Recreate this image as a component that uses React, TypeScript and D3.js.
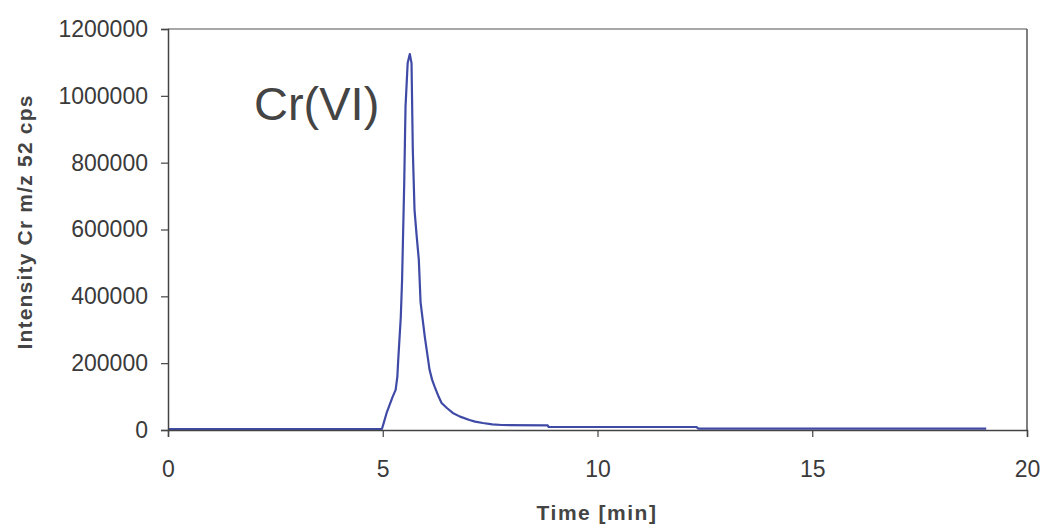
import React, { useRef, useEffect } from "react";
import * as d3 from "d3";

// retention time (min) and Cr m/z 52 intensity (cps)
const times = [
  0, 4.98, 5.02, 5.09, 5.16, 5.23, 5.3, 5.34, 5.36, 5.42, 5.45, 5.5, 5.53, 5.58,
  5.63, 5.67, 5.7, 5.74, 5.79, 5.84, 5.88, 5.93, 5.98, 6.04, 6.09, 6.15, 6.21,
  6.3, 6.37, 6.5, 6.63, 6.8, 7.02, 7.15, 7.33, 7.55, 7.77, 8.84, 8.86, 12.3,
  12.35, 19.05,
];
const intensity = [
  3000, 3000, 20000, 51000, 75000, 99000, 120000, 160000, 209000, 338000,
  449000, 739000, 967000, 1098000, 1125000, 1098000, 838000, 658000, 580000,
  509000, 383000, 330000, 278000, 225000, 180000, 150000, 129000, 100000, 81000,
  65000, 51000, 40000, 30000, 25000, 21000, 17000, 15000, 14000, 9000, 9000,
  4000, 4000,
];
const xTicks = [0, 5, 10, 15, 20];
const yTicks = [0, 200000, 400000, 600000, 800000, 1000000, 1200000];

const W = 1045;
const H = 529;
const FONT = "'Liberation Sans', Arial, sans-serif";

const App = () => {
  const ref = useRef<SVGSVGElement>(null);

  useEffect(() => {
    const svg = d3.select(ref.current);
    svg.selectAll("*").remove();

    const m = { top: 29, right: 18, bottom: 99, left: 168 };
    const x = d3.scaleLinear().domain([0, 20]).range([m.left, W - m.right]);
    const y = d3.scaleLinear().domain([0, 1200000]).range([H - m.bottom, m.top]);

    // plot frame (top and right)
    svg
      .append("line")
      .attr("x1", x(0))
      .attr("x2", x(20))
      .attr("y1", y(1200000))
      .attr("y2", y(1200000))
      .attr("stroke", "#8a8a8a")
      .attr("stroke-width", 1.5);
    svg
      .append("line")
      .attr("x1", x(20))
      .attr("x2", x(20))
      .attr("y1", y(1200000))
      .attr("y2", y(0))
      .attr("stroke", "#555")
      .attr("stroke-width", 1.5);

    const data = times.map((t, i) => [t, intensity[i]] as [number, number]);
    const line = d3
      .line<[number, number]>()
      .x((d) => x(d[0]))
      .y((d) => y(d[1]));

    svg
      .append("path")
      .datum(data)
      .attr("d", line)
      .attr("fill", "none")
      .attr("stroke", "#3f4aa6")
      .attr("stroke-width", 2.2)
      .attr("stroke-linejoin", "round");

    const yAxis = svg
      .append("g")
      .attr("transform", `translate(${m.left},0)`)
      .call(
        d3
          .axisLeft(y)
          .tickValues(yTicks)
          .tickFormat(d3.format("d"))
          .tickSize(7)
          .tickPadding(13)
      );

    const xAxis = svg
      .append("g")
      .attr("transform", `translate(0,${H - m.bottom})`)
      .call(d3.axisBottom(x).tickValues(xTicks).tickSize(7).tickPadding(24));

    [xAxis, yAxis].forEach((g) => {
      g.select(".domain").attr("stroke", "#444").attr("stroke-width", 1.5);
      g.selectAll(".tick line").attr("stroke", "#444").attr("stroke-width", 1.2);
      g.selectAll(".tick text")
        .attr("fill", "#3a3a3a")
        .attr("font-family", FONT)
        .attr("font-size", 23);
    });

    svg
      .append("text")
      .attr("x", 597)
      .attr("y", 520)
      .attr("text-anchor", "middle")
      .attr("font-family", FONT)
      .attr("font-weight", "bold")
      .attr("font-size", 21)
      .attr("letter-spacing", 1.5)
      .attr("fill", "#444")
      .text("Time [min]");

    svg
      .append("text")
      .attr("transform", `translate(32,222) rotate(-90)`)
      .attr("text-anchor", "middle")
      .attr("font-family", FONT)
      .attr("font-weight", "bold")
      .attr("font-size", 21)
      .attr("letter-spacing", 1.2)
      .attr("fill", "#444")
      .text("Intensity Cr m/z 52 cps");

    svg
      .append("text")
      .attr("x", 254)
      .attr("y", 120)
      .attr("font-family", FONT)
      .attr("font-size", 47)
      .attr("fill", "#444")
      .text("Cr(VI)");
  }, []);

  return (
    <svg
      ref={ref}
      width={W}
      height={H}
      style={{ position: "absolute", left: 0, top: 0, background: "#fff" }}
    ></svg>
  );
};

export default App;
